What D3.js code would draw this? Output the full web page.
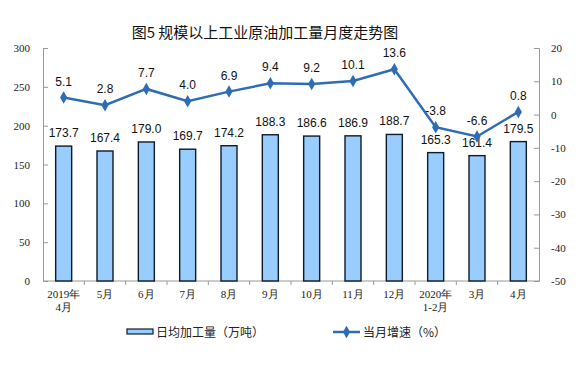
<!DOCTYPE html>
<html>
<head>
<meta charset="utf-8">
<script src="https://cdn.jsdelivr.net/npm/d3@7"></script>
<style>
  body { margin: 0; background: #fff; }
  svg { display: block; }
</style>
</head>
<body>
<div id="chart"></div>
<script>
// Data
const months = ["2019年|4月", "5月", "6月", "7月", "8月", "9月", "10月", "11月", "12月", "2020年|1-2月", "3月", "4月"];
const dailyOutput = [173.7, 167.4, 179.0, 169.7, 174.2, 188.3, 186.6, 186.9, 188.7, 165.3, 161.4, 179.5];
const growthRate = [5.1, 2.8, 7.7, 4.0, 6.9, 9.4, 9.2, 10.1, 13.6, -3.8, -6.6, 0.8];
const leftTicks = [0, 50, 100, 150, 200, 250, 300];
const rightTicks = [-50, -40, -30, -20, -10, 0, 10, 20];

const width = 579, height = 370;
const margin = { top: 48, right: 40, bottom: 89, left: 43 };
const innerW = width - margin.left - margin.right;
const innerH = height - margin.top - margin.bottom;

const svg = d3.select("#chart").append("svg")
  .attr("width", width)
  .attr("height", height);

// Title
svg.append("text")
  .attr("x", 265)
  .attr("y", 38)
  .attr("text-anchor", "middle")
  .attr("font-family", "'Noto Sans CJK SC', sans-serif")
  .attr("font-size", "15px")
  .attr("fill", "#111")
  .text("图5 规模以上工业原油加工量月度走势图");

const g = svg.append("g")
  .attr("transform", `translate(${margin.left},${margin.top})`);

const x = d3.scaleBand()
  .domain(d3.range(months.length))
  .range([0, innerW]);

const yLeft = d3.scaleLinear().domain([0, 300]).range([innerH, 0]);
const yRight = d3.scaleLinear().domain([-50, 20]).range([innerH, 0]);

const axisColor = "#999";
const serif = "'Liberation Serif', 'Times New Roman', serif";
const sans = "'Liberation Sans', Arial, sans-serif";
const cjk = "'Noto Sans CJK SC', sans-serif";

// Left axis (ticks point inward)
const leftAxis = g.append("g")
  .call(d3.axisLeft(yLeft).tickValues(leftTicks).tickSize(-5).tickPadding(13));
leftAxis.select(".domain").attr("stroke", axisColor);
leftAxis.selectAll(".tick line").attr("stroke", axisColor);
leftAxis.selectAll("text").attr("font-family", serif).attr("font-size", "11px").attr("fill", "#222");

// Right axis (ticks point inward), plain hyphen for negatives
const rightAxis = g.append("g")
  .attr("transform", `translate(${innerW},0)`)
  .call(d3.axisRight(yRight).tickValues(rightTicks).tickFormat(d => String(d)).tickSize(-5).tickPadding(12));
rightAxis.select(".domain").attr("stroke", axisColor);
rightAxis.selectAll(".tick line").attr("stroke", axisColor);
rightAxis.selectAll("text").attr("font-family", serif).attr("font-size", "11px").attr("fill", "#222");

// Bottom axis line with boundary ticks
g.append("line")
  .attr("x1", 0).attr("x2", innerW)
  .attr("y1", innerH).attr("y2", innerH)
  .attr("stroke", axisColor);
g.selectAll(".cat-tick")
  .data(d3.range(1, months.length))
  .enter().append("line")
  .attr("class", "cat-tick")
  .attr("x1", d => x(d)).attr("x2", d => x(d))
  .attr("y1", innerH).attr("y2", innerH + 4)
  .attr("stroke", axisColor);

// Category labels (may be two lines)
months.forEach((m, i) => {
  const parts = m.split("|");
  const t = g.append("text")
    .attr("x", x(i) + x.bandwidth() / 2)
    .attr("y", innerH + 17)
    .attr("text-anchor", "middle")
    .attr("font-family", serif)
    .attr("font-size", "11px")
    .attr("fill", "#222");
  parts.forEach((p, k) => {
    t.append("tspan")
      .attr("x", x(i) + x.bandwidth() / 2)
      .attr("dy", k === 0 ? 0 : 13)
      .text(p);
  });
});

// Bars
const barW = 16;
g.selectAll(".bar")
  .data(dailyOutput)
  .enter().append("rect")
  .attr("class", "bar")
  .attr("x", (d, i) => x(i) + x.bandwidth() / 2 - barW / 2)
  .attr("y", d => yLeft(d))
  .attr("width", barW)
  .attr("height", d => innerH - yLeft(d))
  .attr("fill", "#99ccff")
  .attr("stroke", "#0d1b2a")
  .attr("stroke-width", 1.4);

g.selectAll(".bar-label")
  .data(dailyOutput)
  .enter().append("text")
  .attr("class", "bar-label")
  .attr("x", (d, i) => x(i) + x.bandwidth() / 2)
  .attr("y", d => yLeft(d) - 9)
  .attr("text-anchor", "middle")
  .attr("font-family", sans)
  .attr("font-size", "12px")
  .attr("fill", "#111")
  .text(d => d.toFixed(1));

// Growth line
const lineColor = "#2e6db4";
const line = d3.line()
  .x((d, i) => x(i) + x.bandwidth() / 2)
  .y(d => yRight(d));

g.append("path")
  .datum(growthRate)
  .attr("d", line)
  .attr("fill", "none")
  .attr("stroke", lineColor)
  .attr("stroke-width", 2.5);

const diamond = d3.symbol().type(d3.symbolDiamond).size(45);
g.selectAll(".pt")
  .data(growthRate)
  .enter().append("path")
  .attr("class", "pt")
  .attr("d", diamond)
  .attr("transform", (d, i) => `translate(${x(i) + x.bandwidth() / 2},${yRight(d)})`)
  .attr("fill", lineColor);

g.selectAll(".line-label")
  .data(growthRate)
  .enter().append("text")
  .attr("class", "line-label")
  .attr("x", (d, i) => x(i) + x.bandwidth() / 2)
  .attr("y", d => yRight(d) - 12)
  .attr("text-anchor", "middle")
  .attr("font-family", sans)
  .attr("font-size", "12px")
  .attr("fill", "#111")
  .text(d => d.toFixed(1));

// Legend
const legend = svg.append("g").attr("transform", "translate(0,332)");
legend.append("rect")
  .attr("x", 127).attr("y", -3)
  .attr("width", 26).attr("height", 5)
  .attr("fill", "#99ccff")
  .attr("stroke", "#0d1b2a")
  .attr("stroke-width", 1.2);
legend.append("text")
  .attr("x", 156).attr("y", 5)
  .attr("font-family", cjk)
  .attr("font-size", "12px")
  .attr("fill", "#222")
  .text("日均加工量（万吨）");

legend.append("line")
  .attr("x1", 333).attr("x2", 360)
  .attr("y1", 0).attr("y2", 0)
  .attr("stroke", lineColor)
  .attr("stroke-width", 2.5);
legend.append("path")
  .attr("d", diamond)
  .attr("transform", "translate(346.5,0)")
  .attr("fill", lineColor);
legend.append("text")
  .attr("x", 363).attr("y", 5)
  .attr("font-family", cjk)
  .attr("font-size", "12px")
  .attr("fill", "#222")
  .text("当月增速（%）");
</script>
</body>
</html>
